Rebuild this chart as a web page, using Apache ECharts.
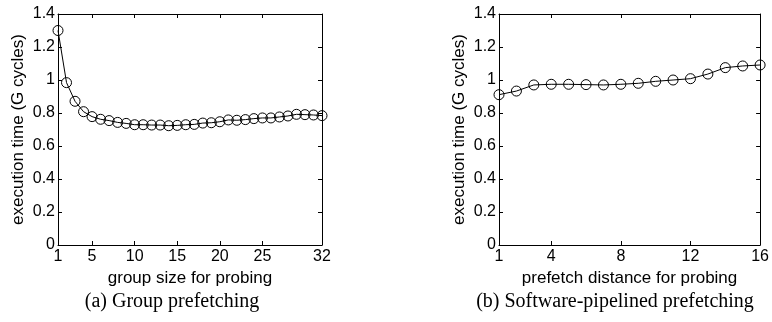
<!DOCTYPE html>
<html>
<head>
<meta charset="utf-8">
<script src="https://cdn.jsdelivr.net/npm/echarts@6/dist/echarts.min.js"></script>
<style>
  html, body { margin: 0; padding: 0; background: #fff; }
  #main { width: 772px; height: 322px; }
</style>
</head>
<body>
<div id="main"></div>
<script>
// left panel: group prefetching
var groupSize = [1, 2, 3, 4, 5, 6, 7, 8, 9, 10, 11, 12, 13, 14, 15, 16,
  17, 18, 19, 20, 21, 22, 23, 24, 25, 26, 27, 28, 29, 30, 31, 32];
var groupTime = [1.30, 0.984, 0.871, 0.808, 0.778, 0.762, 0.754, 0.743, 0.737, 0.729, 0.729, 0.727, 0.727, 0.723, 0.725, 0.729,
  0.731, 0.739, 0.741, 0.747, 0.758, 0.756, 0.760, 0.766, 0.770, 0.770, 0.776, 0.782, 0.792, 0.790, 0.788, 0.784];
var groupTicks = [1, 5, 10, 15, 20, 25, 32];

// right panel: software-pipelined prefetching
var distance = [1, 2, 3, 4, 5, 6, 7, 8, 9, 10, 11, 12, 13, 14, 15, 16];
var pipeTime = [0.911, 0.933, 0.970, 0.974, 0.974, 0.972, 0.970, 0.974, 0.980, 0.992, 1.000, 1.008, 1.036, 1.075, 1.085, 1.091];
var distTicks = [1, 4, 8, 12, 16];

var sans = 'Liberation Sans';
var serif = 'Liberation Serif';

function pairs(xs, ys) {
  return xs.map(function (x, i) { return [x, ys[i]]; });
}

function xAxisFor(grid, max, ticks, name, top) {
  return {
    type: 'value',
    gridIndex: grid,
    position: top ? 'top' : 'bottom',
    min: 1,
    max: max,
    name: top ? '' : name,
    nameLocation: 'middle',
    nameGap: 24,
    nameTextStyle: { color: '#000', fontFamily: sans, fontSize: 17 },
    axisLine: { show: true, onZero: false, lineStyle: { color: '#000', width: 1 } },
    axisTick: { show: true, inside: true, length: 4, customValues: ticks, lineStyle: { color: '#000' } },
    axisLabel: { show: !top, customValues: ticks, margin: 4, color: '#000', fontFamily: sans, fontSize: 16 },
    splitLine: { show: false }
  };
}

function yAxisFor(grid, right) {
  return {
    type: 'value',
    gridIndex: grid,
    position: right ? 'right' : 'left',
    min: 0,
    max: 1.4,
    interval: 0.2,
    name: right ? '' : 'execution time (G cycles)',
    nameLocation: 'middle',
    nameGap: 31,
    nameTextStyle: { color: '#000', fontFamily: sans, fontSize: 17 },
    axisLine: { show: true, onZero: false, lineStyle: { color: '#000', width: 1 } },
    axisTick: { show: true, inside: true, length: 4, lineStyle: { color: '#000' } },
    axisLabel: { show: !right, margin: 3, color: '#000', fontFamily: sans, fontSize: 16 },
    splitLine: { show: false }
  };
}

function lineSeries(x, y, data) {
  return {
    type: 'line',
    xAxisIndex: x,
    yAxisIndex: y,
    data: data,
    symbol: 'circle',
    symbolSize: 10,
    showAllSymbol: true,
    clip: false,
    lineStyle: { color: '#000', width: 1 },
    itemStyle: { color: 'rgba(0,0,0,0)', borderColor: '#000', borderWidth: 1 },
    emphasis: { disabled: true },
    animation: false
  };
}

var chart = echarts.init(document.getElementById('main'));

var option = {
  backgroundColor: '#fff',
  animation: false,
  title: [
    { text: '(a) Group prefetching', left: 167, top: 287, textAlign: 'center',
      textStyle: { fontFamily: serif, fontSize: 20, fontWeight: 'normal', color: '#000' } },
    { text: '(b) Software-pipelined prefetching', left: 610, top: 287, textAlign: 'center',
      textStyle: { fontFamily: serif, fontSize: 20, fontWeight: 'normal', color: '#000' } }
  ],
  grid: [
    { left: 58, right: 450, top: 14, bottom: 77 },
    { left: 499, right: 10, top: 14, bottom: 77 }
  ],
  xAxis: [
    xAxisFor(0, 32, groupTicks, 'group size for probing', false),
    xAxisFor(0, 32, groupTicks, '', true),
    xAxisFor(1, 16, distTicks, 'prefetch distance for probing', false),
    xAxisFor(1, 16, distTicks, '', true)
  ],
  yAxis: [
    yAxisFor(0, false),
    yAxisFor(0, true),
    yAxisFor(1, false),
    yAxisFor(1, true)
  ],
  series: [
    lineSeries(0, 0, pairs(groupSize, groupTime)),
    lineSeries(2, 2, pairs(distance, pipeTime))
  ]
};

chart.setOption(option);
</script>
</body>
</html>
